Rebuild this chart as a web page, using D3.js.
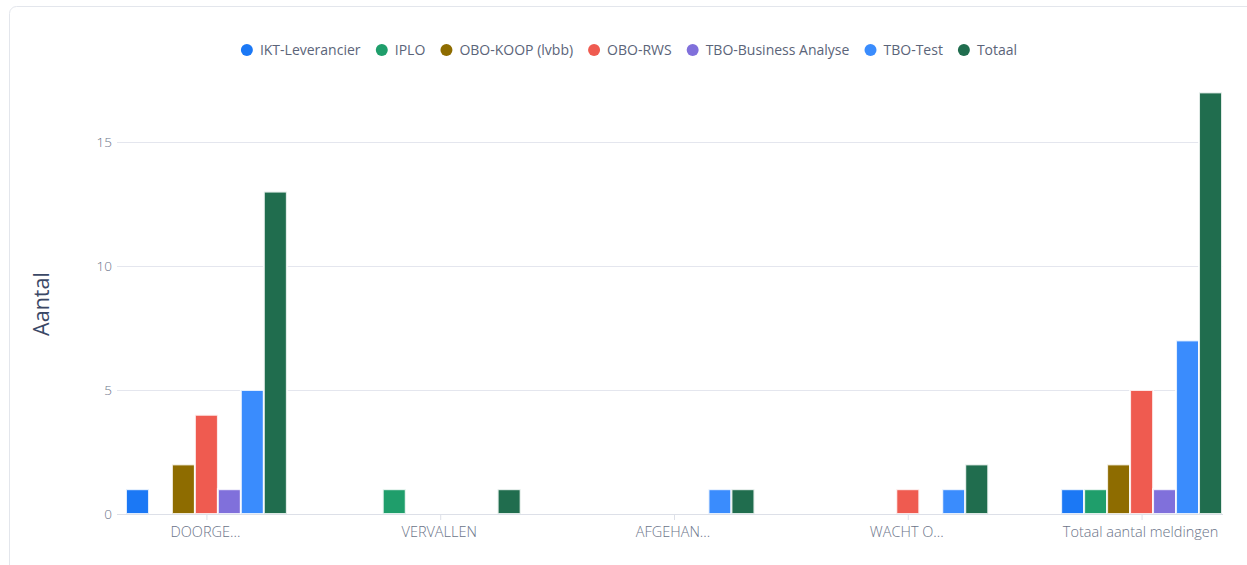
<!DOCTYPE html>
<html>
<head>
<meta charset="utf-8">
<script src="https://cdn.jsdelivr.net/npm/d3@7/dist/d3.min.js"></script>
<style>
  html, body { margin: 0; padding: 0; background: #fff; }
  svg { display: block; font-family: "Open Sans", "Noto Sans", sans-serif; }
</style>
</head>
<body>
<svg class="canvas" width="1247" height="565"></svg>
<script>
// categories on the x axis
var categories = ['DOORGE...', 'VERVALLEN', 'AFGEHAN...', 'WACHT O...', 'Totaal aantal meldingen'];

// one list per series, in category order
var seriesNames = ['IKT-Leverancier', 'IPLO', 'OBO-KOOP (lvbb)', 'OBO-RWS', 'TBO-Business Analyse', 'TBO-Test', 'Totaal'];
var ikt      = [1, 0, 0, 0, 1];
var iplo     = [0, 1, 0, 0, 1];
var oboKoop  = [2, 0, 0, 0, 2];
var oboRws   = [4, 0, 0, 1, 5];
var tboBa    = [1, 0, 0, 0, 1];
var tboTest  = [5, 0, 1, 1, 7];
var totaal   = [13, 1, 1, 2, 17];
var seriesValues = [ikt, iplo, oboKoop, oboRws, tboBa, tboTest, totaal];

var colors = ['#1b78f5', '#1f9e6b', '#8e6c00', '#ef5b50', '#8070db', '#3a8cfd', '#206d4e'];

var yTicks = [0, 5, 10, 15];

var svg = d3.select('.canvas');

// card frame
svg.append('rect')
    .attr('x', 9.5).attr('y', 6.5)
    .attr('width', 1300).attr('height', 700)
    .attr('rx', 7)
    .attr('fill', '#fff')
    .attr('stroke', '#e3e6ec');

var plot = {left: 117, right: 1223, top: 92, bottom: 514};

var x = d3.scaleBand()
    .domain(categories)
    .range([126, 1222])
    .paddingInner(0.312)
    .paddingOuter(0);

var x1 = d3.scaleBand()
    .domain(seriesNames)
    .range([0, x.bandwidth()]);

var y = d3.scaleLinear()
    .domain([0, 15])
    .range([plot.bottom, 142]);

// gridlines
svg.append('g').selectAll('line')
    .data(yTicks.filter(function(t){ return t > 0; }))
    .join('line')
    .attr('x1', plot.left).attr('x2', plot.right)
    .attr('y1', function(d){ return y(d) + 0.5; })
    .attr('y2', function(d){ return y(d) + 0.5; })
    .attr('stroke', '#e4e6ee');

// y labels
svg.append('g').selectAll('text')
    .data(yTicks)
    .join('text')
    .attr('x', 112)
    .attr('y', function(d){ return y(d); })
    .attr('dy', '0.35em')
    .attr('text-anchor', 'end')
    .attr('font-size', 13.5)
    .attr('font-weight', 300)
    .attr('fill', '#6b7489')
    .text(function(d){ return d; });

// y title
svg.append('text')
    .attr('transform', 'translate(49,304) rotate(-90)')
    .attr('text-anchor', 'middle')
    .attr('font-size', 21.5)
    .attr('fill', '#3b4866')
    .text('Aantal');

// bars
var groups = svg.append('g').selectAll('g')
    .data(categories)
    .join('g')
    .attr('transform', function(d){ return 'translate(' + x(d) + ',0)'; });

groups.selectAll('rect')
    .data(function(c, ci){
        return seriesNames.map(function(s, si){
            return {series: s, value: seriesValues[si][ci], color: colors[si]};
        }).filter(function(d){ return d.value > 0; });
    })
    .join('rect')
    .attr('x', function(d){ return x1(d.series); })
    .attr('y', function(d){ return y(d.value); })
    .attr('width', x1.bandwidth())
    .attr('height', function(d){ return y(0) - y(d.value); })
    .attr('fill', function(d){ return d.color; })
    .attr('stroke', '#fff')
    .attr('stroke-opacity', 0.85)
    .attr('stroke-width', 2);

// x axis line
svg.append('line')
    .attr('x1', plot.left).attr('x2', plot.right)
    .attr('y1', plot.bottom + 0.5).attr('y2', plot.bottom + 0.5)
    .attr('stroke', '#dde0e8');

// x ticks + labels
var xt = svg.append('g').selectAll('g')
    .data(categories)
    .join('g')
    .attr('transform', function(d){ return 'translate(' + (x(d) + x.bandwidth() / 2) + ',0)'; });

xt.append('line')
    .attr('x1', 0.5).attr('x2', 0.5)
    .attr('y1', plot.bottom).attr('y2', plot.bottom + 6)
    .attr('stroke', '#dde0e8');

xt.append('text')
    .attr('x', -1)
    .attr('y', 537)
    .attr('text-anchor', 'middle')
    .attr('font-size', 14.5)
    .attr('font-weight', 300)
    .attr('fill', '#6b7489')
    .text(function(d){ return d; });

// legend
var legend = svg.append('g');
var items = legend.selectAll('g')
    .data(seriesNames)
    .join('g');

items.append('circle')
    .attr('r', 6)
    .attr('fill', function(d, i){ return colors[i]; });

items.append('text')
    .attr('x', 13)
    .attr('dy', '0.35em')
    .attr('font-size', 14)
    .attr('fill', '#5b6479')
    .text(function(d){ return d; });

// lay the items out in a centered row
var gap = 15;
var offsets = [], pos = 0;
items.each(function(){
    offsets.push(pos);
    pos += this.getBBox().width + gap;
});
var total = pos - gap;
var startX = 629 - total / 2 + 6;
items.attr('transform', function(d, i){ return 'translate(' + (startX + offsets[i]) + ',50)'; });
</script>
</body>
</html>
